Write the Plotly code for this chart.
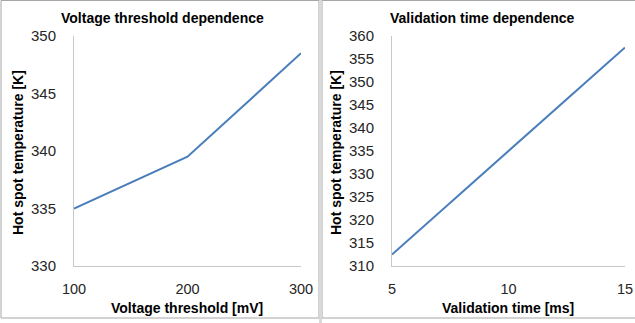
import plotly.graph_objects as go

# Data
volt_x = [100, 200, 300]
volt_y = [335.0, 339.5, 348.5]
time_x = [5, 10, 15]
time_y = [312.5, 335.0, 357.5]

left_title = "Voltage threshold dependence"
right_title = "Validation time dependence"
y_title = "Hot spot temperature [K]"
left_xtitle = "Voltage threshold [mV]"
right_xtitle = "Validation time [ms]"

W, H = 635, 323
LINE = "#4a7ebb"
AXC = "#c8c8c8"
FONT = "Liberation Sans"

fig = go.Figure()
fig.add_trace(go.Scatter(x=volt_x, y=volt_y, mode="lines", line=dict(color=LINE, width=2),
                         xaxis="x", yaxis="y", showlegend=False, hoverinfo="skip"))
fig.add_trace(go.Scatter(x=time_x, y=time_y, mode="lines", line=dict(color=LINE, width=2),
                         xaxis="x2", yaxis="y2", showlegend=False, hoverinfo="skip"))

def px(x):
    return x / W

def py(y):
    return 1 - y / H

ydom = [py(266), py(36)]
tickfont = dict(family=FONT, size=15, color="#262626")
xtickfont = dict(family=FONT, size=14.5, color="#262626")
common_x = dict(showgrid=False, zeroline=False, showline=True, linecolor=AXC, linewidth=1,
                ticks="", tickfont=xtickfont, ticklabelstandoff=10, automargin=False)
common_y = dict(showgrid=False, zeroline=False, showline=True, linecolor=AXC, linewidth=1,
                ticks="", tickfont=tickfont, ticklabelstandoff=14, automargin=False)

fig.update_layout(
    width=W, height=H, margin=dict(l=0, r=0, t=0, b=0, autoexpand=False),
    paper_bgcolor="white", plot_bgcolor="white",
    xaxis=dict(domain=[px(74), px(301)], range=[100, 300], tickvals=[100, 200, 300], anchor="y", **common_x),
    yaxis=dict(domain=ydom, range=[330, 350], tickvals=[330, 335, 340, 345, 350], anchor="x", **common_y),
    xaxis2=dict(domain=[px(392), px(625)], range=[5, 15], tickvals=[5, 10, 15], anchor="y2", **common_x),
    yaxis2=dict(domain=ydom, range=[310, 360], dtick=5, tick0=310, anchor="x2", **common_y),
)

bold = dict(family=FONT, size=14, color="#000000")
anns = [
    dict(text="<b>%s</b>" % left_title, x=px(162), y=py(18)),
    dict(text="<b>%s</b>" % right_title, x=px(482), y=py(18)),
    dict(text="<b>%s</b>" % left_xtitle, x=px(187.5), y=py(307.5)),
    dict(text="<b>%s</b>" % right_xtitle, x=px(508.5), y=py(307.5)),
    dict(text="<b>%s</b>" % y_title, x=px(18), y=py(153), textangle=-90),
    dict(text="<b>%s</b>" % y_title, x=px(336), y=py(153), textangle=-90),
]
for a in anns:
    fig.add_annotation(xref="paper", yref="paper", showarrow=False, font=bold,
                       xanchor="center", yanchor="middle", **a)

BORDER = "#a6a6a6"
shapes = [
    dict(type="rect", x0=px(1), x1=px(319), y0=py(318), y1=py(0.5), line=dict(color=BORDER, width=1)),
    dict(type="rect", x0=px(322), x1=px(640), y0=py(318), y1=py(0.5), line=dict(color=BORDER, width=1)),
    dict(type="rect", x0=px(319), x1=px(322), y0=py(323), y1=py(0), line=dict(width=0), fillcolor="#d9d9d9"),
]
for s in shapes:
    fig.add_shape(xref="paper", yref="paper", layer="above", **s)

fig.write_html("out.html")
